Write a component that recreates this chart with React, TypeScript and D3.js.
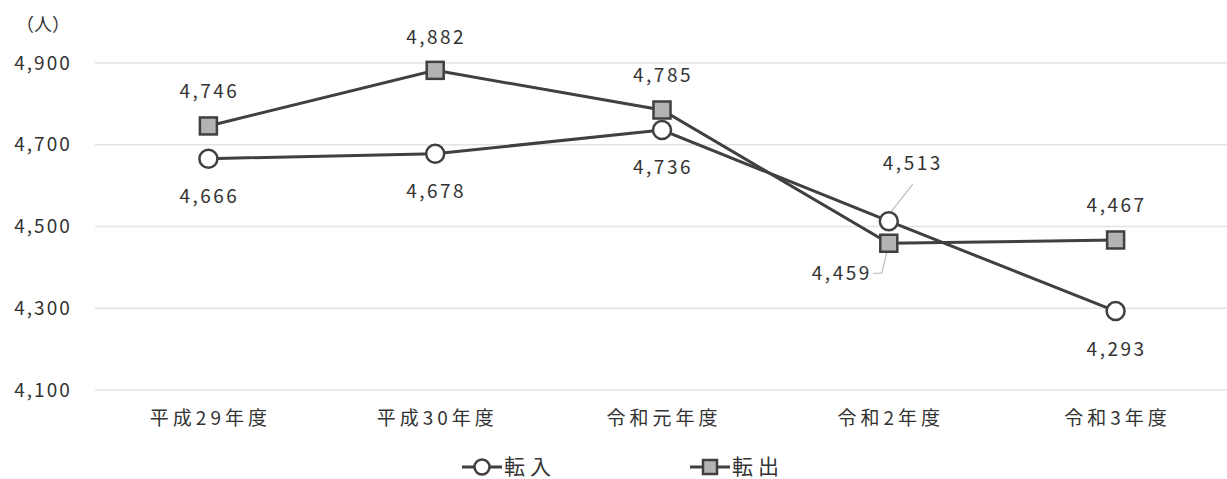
import React from "react";
import * as d3 from "d3";

const categories = ["平成29年度", "平成30年度", "令和元年度", "令和2年度", "令和3年度"];
const tennyu = [4666, 4678, 4736, 4513, 4293];
const tenshutsu = [4746, 4882, 4785, 4459, 4467];
const yTicks = [4100, 4300, 4500, 4700, 4900];

const W = 1227, H = 479;
const FONT = "'Noto Sans CJK JP', 'Noto Sans', sans-serif";
const LINE = "#404040";

export default function App() {
  const x = d3.scaleBand<string>().domain(categories).range([95, 1229]);
  const y = d3.scaleLinear().domain([4100, 4900]).range([390, 63]);
  const cx = (c: string) => (x(c) as number) + x.bandwidth() / 2;
  const line = d3.line<number>().x((_, i) => cx(categories[i])).y((v) => y(v));
  const fmt = d3.format(",");

  // label offsets (dx, dy) relative to point
  const inOff: [number, number][] = [[0, 38], [0, 38], [0, 37], [23, -58], [0, 38]];
  const outOff: [number, number][] = [[0, -35], [0, -33], [0, -35], [-48, 30], [0, -35]];

  return (
    <svg width={W} height={H} style={{ position: "absolute", left: 0, top: 0, background: "#fff" }}
      fontFamily={FONT}>
      <rect width={W} height={H} fill="#fff" />
      {yTicks.map((t) => (
        <g key={t}>
          <line x1={95} x2={1227} y1={y(t)} y2={y(t)} stroke="#e3e3e3" strokeWidth={1.5} />
          <text x={43} y={y(t)} dy="0.35em" textAnchor="middle" fontSize={19} fill="#333" letterSpacing={2}>
            {fmt(t)}
          </text>
        </g>
      ))}
      <text x={43} y={25} dy="0.35em" textAnchor="middle" fontSize={18} fill="#333">（人）</text>
      {categories.map((c) => (
        <text key={c} x={cx(c) + 2} y={418} dy="0.35em" textAnchor="middle" fontSize={19} fill="#333" letterSpacing={4}>
          {c}
        </text>
      ))}
      {/* leader lines */}
      <line x1={cx(categories[3]) + 2} y1={y(tennyu[3]) - 9} x2={cx(categories[3]) + 24} y2={y(tennyu[3]) - 37} stroke="#bbb" strokeWidth={1.2} />
      <polyline points={`${cx(categories[3]) - 2},${y(tenshutsu[3]) + 9} ${cx(categories[3]) - 7},${y(tenshutsu[3]) + 30} ${cx(categories[3]) - 16},${y(tenshutsu[3]) + 30}`} fill="none" stroke="#bbb" strokeWidth={1.2} />
      <path d={line(tenshutsu) || ""} fill="none" stroke={LINE} strokeWidth={3} />
      <path d={line(tennyu) || ""} fill="none" stroke={LINE} strokeWidth={3} />
      {tenshutsu.map((v, i) => (
        <rect key={"s" + i} x={cx(categories[i]) - 8.5} y={y(v) - 8.5} width={17} height={17}
          fill="#b3b3b3" stroke={LINE} strokeWidth={2.5} />
      ))}
      {tennyu.map((v, i) => (
        <circle key={"c" + i} cx={cx(categories[i])} cy={y(v)} r={9} fill="#fff" stroke={LINE} strokeWidth={2.5} />
      ))}
      {tennyu.map((v, i) => (
        <text key={"ti" + i} x={cx(categories[i]) + inOff[i][0] + 1} y={y(v) + inOff[i][1]} dy="0.35em"
          textAnchor="middle" fontSize={19} fill="#333" letterSpacing={2.5}>{fmt(v)}</text>
      ))}
      {tenshutsu.map((v, i) => (
        <text key={"to" + i} x={cx(categories[i]) + outOff[i][0] + 1} y={y(v) + outOff[i][1]} dy="0.35em"
          textAnchor="middle" fontSize={19} fill="#333" letterSpacing={2.5}>{fmt(v)}</text>
      ))}
      {/* legend */}
      <g>
        <line x1={462} x2={502} y1={467} y2={467} stroke={LINE} strokeWidth={3} />
        <circle cx={482} cy={467} r={7.5} fill="#fff" stroke={LINE} strokeWidth={2.5} />
        <text x={504} y={467} dy="0.35em" fontSize={21} fill="#333" letterSpacing={5}>転入</text>
        <line x1={690} x2={730} y1={467} y2={467} stroke={LINE} strokeWidth={3} />
        <rect x={703} y={460} width={14} height={14} fill="#b3b3b3" stroke={LINE} strokeWidth={2.5} />
        <text x={732} y={467} dy="0.35em" fontSize={21} fill="#333" letterSpacing={5}>転出</text>
      </g>
    </svg>
  );
}
